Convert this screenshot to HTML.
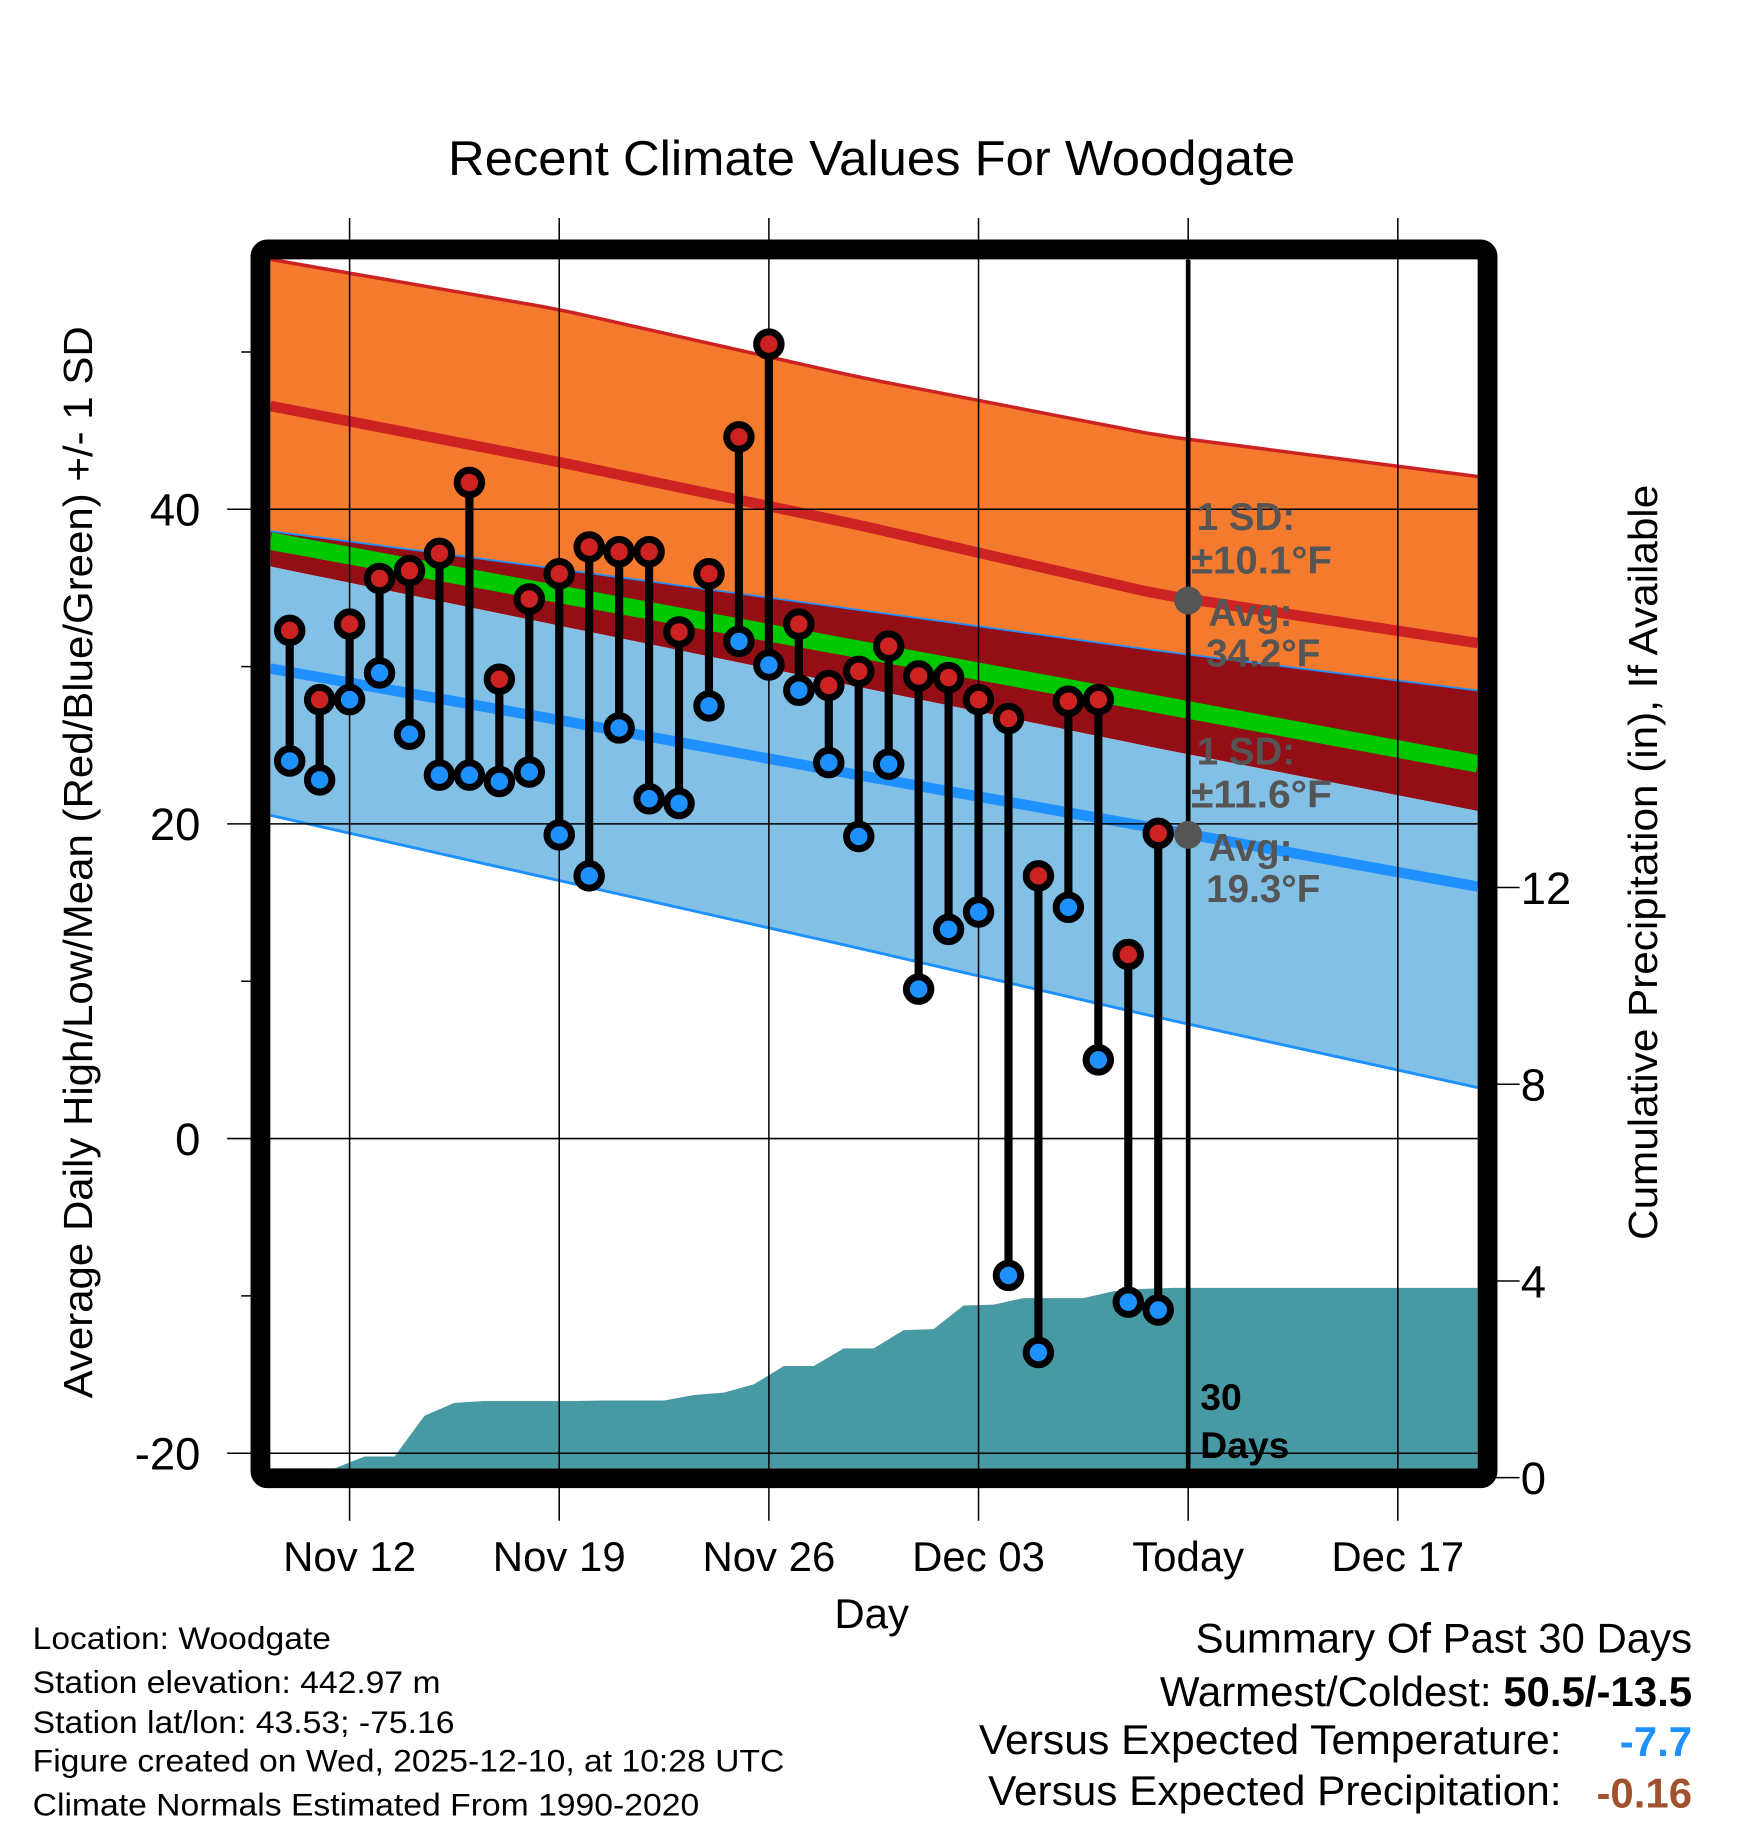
<!DOCTYPE html>
<html><head><meta charset="utf-8"><style>
html,body{margin:0;padding:0;background:#fff;}
svg{display:block;font-family:"Liberation Sans",sans-serif;}
</style></head><body>
<svg id="chart" width="1748" height="1828" viewBox="0 0 1500 1568.6" xmlns="http://www.w3.org/2000/svg">
<g id="layer"></g>
</svg>
<script>
// ---- data ----
const dayLabels = ["Nov 12","Nov 19","Nov 26","Dec 03","Today","Dec 17"];
const dayLabelIdx = [2,9,16,23,30,37];
const highs = [32.3,27.9,32.7,35.6,36.1,37.2,41.7,29.2,34.3,35.9,37.6,37.3,37.3,32.2,35.9,44.6,50.5,32.7,28.8,29.7,31.3,29.4,29.3,27.9,26.7,16.7,27.8,27.9,11.7,19.4];
const lows = [24.0,22.8,27.9,29.6,25.7,23.1,23.1,22.7,23.3,19.3,16.7,26.1,21.6,21.3,27.5,31.6,30.1,28.5,23.9,19.2,23.8,9.5,13.3,14.4,-8.7,-13.6,14.7,5.0,-10.4,-10.9];
const precip = [0,0,0.05,0.43,0.43,1.26,1.52,1.56,1.56,1.56,1.56,1.57,1.57,1.57,1.68,1.73,1.9,2.27,2.27,2.63,2.63,3.0,3.02,3.5,3.52,3.65,3.65,3.65,3.79,3.84,3.86];
const normDays = [-1,9,19,29,40];
const highUpper = [56.0,52.7,48.4,44.7,42.0];
const highMean = [46.7,43.0,39.0,34.6,31.4];
const highLower = [38.7,36.2,33.6,31.0,28.4];
const meanLine = [38.1,34.6,31.1,27.6,23.7];
const lowUpper = [36.5,32.6,28.7,24.8,20.7];
const lowMean = [30.0,26.6,23.1,19.7,15.9];
const lowLower = [20.7,16.4,12.1,7.7,3.1];
const yTicks = [40,20,0,-20];
const yMinor = [50,30,10,-10];
const pTicks = [0,4,8,12];

// ---- axes ----
const L=232,R=1268,T=223,B=1260;
const x = d => 248.6 + 25.7*d;
const y = v => 977 - 13.5*v;
const yp = p => 1268 - 42.2*p;
const NS="http://www.w3.org/2000/svg";
const g=document.getElementById('layer');
function el(tag,attrs,parent){const e=document.createElementNS(NS,tag);for(const k in attrs)e.setAttribute(k,attrs[k]);(parent||g).appendChild(e);return e;}
function interp(arr,d){for(let i=0;i<normDays.length-1;i++){if(d<=normDays[i+1]){const t=(d-normDays[i])/(normDays[i+1]-normDays[i]);return arr[i]+t*(arr[i+1]-arr[i]);}}return arr[arr.length-1];}
const dL=(L-248.6)/25.7, dR=(R-248.6)/25.7;
function linePts(arr){const pts=[];for(let k=0;k<=40;k++){const d=dL+(dR-dL)*k/40;pts.push([x(d),y(interp(arr,d))]);}return pts;}
function band(a,b,fill,name){const p1=linePts(a),p2=linePts(b).reverse();const e=el('polygon',{points:p1.concat(p2).map(p=>p.join(',')).join(' '),fill:fill});

}
function line(a,color,w,name){const e=el('polyline',{points:linePts(a).map(p=>p.join(',')).join(' '),fill:'none',stroke:color,'stroke-width':w});

}

const clip=el('clipPath',{id:'pc'});el('rect',{x:L,y:T,width:R-L,height:B-T},clip);

band(highUpper,highLower,'#f47a2e','high-sd-band');
band(highLower,lowUpper,'#930e15','overlap-band');
band(lowUpper,lowLower,'#82c0e6','low-sd-band');
line(meanLine,'#00c800',15,'mean-line');
line(highLower,'#1e90ff',1.5,'high-lower-line');
line(lowMean,'#1e90ff',9,'low-mean-line');
line(highMean,'#cc2222',9,'high-mean-line');
line(highUpper,'#cc2222',3,'high-upper-line');
line(lowLower,'#1e90ff',2.5,'low-lower-line');

// precip area
{const pts=[[L,B]];precip.forEach((p,i)=>pts.push([x(i-0.5),Math.min(yp(p),B)]));pts.push([R,yp(precip[precip.length-1])]);pts.push([R,B]);
const e=el('polygon',{points:pts.map(p=>p.join(',')).join(' '),fill:'#4799a3','clip-path':'url(#pc)'});

}

// grid
dayLabelIdx.forEach((d,i)=>{const e=el('line',{x1:x(d),x2:x(d),y1:187,y2:1305,stroke:'#000','stroke-width':1.3});

});
yTicks.forEach(v=>{const e=el('line',{x1:195,x2:R,y1:y(v),y2:y(v),stroke:'#000','stroke-width':1.3});

});
yMinor.forEach(v=>{const e=el('line',{x1:207,x2:222,y1:y(v),y2:y(v),stroke:'#000','stroke-width':1.3});

});
pTicks.forEach(p=>{const e=el('line',{x1:1282,x2:1304,y1:yp(p),y2:yp(p),stroke:'#000','stroke-width':1.3});

});

// today line
{const e=el('line',{x1:x(30),x2:x(30),y1:T,y2:B,stroke:'#000','stroke-width':4});

}

// stems + dots
highs.forEach((h,i)=>{const e=el('line',{x1:x(i),x2:x(i),y1:y(h),y2:y(lows[i]),stroke:'#000','stroke-width':7});

});
highs.forEach((h,i)=>{const e=el('circle',{cx:x(i),cy:y(h),r:10.5,fill:'#cc2222',stroke:'#000','stroke-width':6});

});
lows.forEach((v,i)=>{const e=el('circle',{cx:x(i),cy:y(v),r:10.5,fill:'#1e90ff',stroke:'#000','stroke-width':6});

});

// annotations
function txt(s,ax,ay,o,name){const e=el('text',Object.assign({x:ax,y:ay},o));e.textContent=s;

return e;}
const ann={'font-size':33,'font-weight':'bold',fill:'#555'};
{const e=el('circle',{cx:x(30),cy:y(34.2),r:12,fill:'#555'});}
{const e=el('circle',{cx:x(30),cy:y(19.3),r:12,fill:'#555'});}
txt('1 SD:',1027,455,ann,'high-sd-label');
txt('±10.1°F',1022,492,Object.assign({textLength:121,lengthAdjust:'spacingAndGlyphs'},ann),'high-sd-value');
txt('Avg:',1037,537,ann,'high-avg-label');
txt('34.2°F',1035,572,Object.assign({textLength:98,lengthAdjust:'spacingAndGlyphs'},ann),'high-avg-value');
txt('1 SD:',1027,656,ann,'low-sd-label');
txt('±11.6°F',1022,693,Object.assign({textLength:121,lengthAdjust:'spacingAndGlyphs'},ann),'low-sd-value');
txt('Avg:',1037,739,ann,'low-avg-label');
txt('19.3°F',1035,774,Object.assign({textLength:98,lengthAdjust:'spacingAndGlyphs'},ann),'low-avg-value');
txt('30',1030,1210,{'font-size':32,'font-weight':'bold',fill:'#000'},'days-count');
txt('Days',1030,1251,{'font-size':32,'font-weight':'bold',fill:'#000'},'days-label');

// frame
{const e=el('rect',{x:L-8.5,y:T-9,width:R-L+17,height:B-T+17.5,rx:6,fill:'none',stroke:'#000','stroke-width':17});

}

// tick labels
yTicks.forEach(v=>txt(String(v),172,y(v)+14,{'font-size':39,'text-anchor':'end'},'y-tick-label'));
pTicks.forEach(p=>txt(String(p),1305,yp(p)+14,{'font-size':39},'precip-tick-label'));
dayLabels.forEach((s,i)=>txt(s,x(dayLabelIdx[i]),1348,{'font-size':36,'text-anchor':'middle'},'x-tick-label'));
txt('Day',748,1397,{'font-size':36,'text-anchor':'middle'},'x-axis-title');
txt('Recent Climate Values For Woodgate',748,150,{'font-size':42,'text-anchor':'middle',textLength:727,lengthAdjust:'spacingAndGlyphs'},'chart-title');
txt('Average Daily High/Low/Mean (Red/Blue/Green) +/- 1 SD',0,0,{'font-size':35,'text-anchor':'middle',transform:'translate(79,740) rotate(-90)',textLength:920,lengthAdjust:'spacingAndGlyphs'},'y-axis-title');
txt('Cumulative Precipitation (in), If Available',0,0,{'font-size':35,'text-anchor':'middle',transform:'translate(1422,740) rotate(-90)',textLength:648,lengthAdjust:'spacingAndGlyphs'},'precip-axis-title');

// footer
const fl=['Location: Woodgate','Station elevation: 442.97 m','Station lat/lon: 43.53; -75.16','Figure created on Wed, 2025-12-10, at 10:28 UTC','Climate Normals Estimated From 1990-2020'];
const fy=[1415,1453,1487,1520,1558];
const fw=[256,350,362,645,572];
fl.forEach((s,i)=>txt(s,28,fy[i],{'font-size':27,textLength:fw[i],lengthAdjust:'spacingAndGlyphs'},'footer-info-line'));
txt('Summary Of Past 30 Days',1452,1418,{'font-size':36,'text-anchor':'end',textLength:426,lengthAdjust:'spacingAndGlyphs'},'summary-title');
{const t=txt('',1452,1464,{'font-size':36,'text-anchor':'end'},'warmest-coldest');
const a=el('tspan',{},t);a.textContent='Warmest/Coldest: ';const b=el('tspan',{'font-weight':'bold'},t);b.textContent='50.5/-13.5';}
txt('Versus Expected Temperature:',1340,1505,{'font-size':36,'text-anchor':'end',textLength:500,lengthAdjust:'spacingAndGlyphs'},'temp-departure-label');
txt('-7.7',1452,1507,{'font-size':36,'text-anchor':'end','font-weight':'bold',fill:'#1e90ff'},'temp-departure-value');
txt('Versus Expected Precipitation:',1340,1549,{'font-size':36,'text-anchor':'end',textLength:492,lengthAdjust:'spacingAndGlyphs'},'precip-departure-label');
txt('-0.16',1452,1551,{'font-size':36,'text-anchor':'end','font-weight':'bold',fill:'#a0522d'},'precip-departure-value');
</script>
</body></html>
